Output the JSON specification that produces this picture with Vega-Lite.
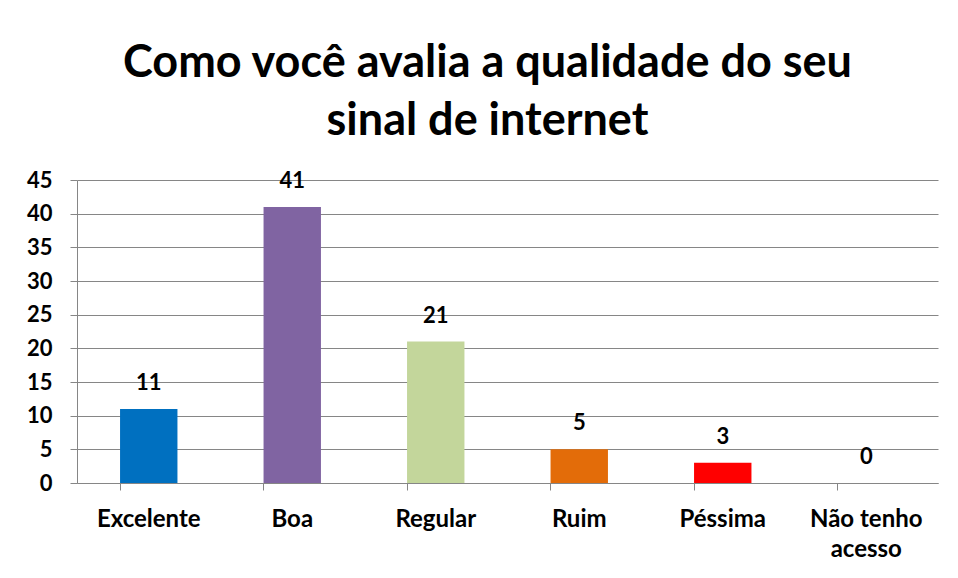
{
  "$schema": "https://vega.github.io/schema/vega-lite/v6.json",
  "autosize": "none",
  "width": 861,
  "height": 303,
  "padding": {"left": 77, "top": 180, "right": 20, "bottom": 95},
  "background": "white",
  "title": {
    "text": ["Como você avalia a qualidade do seu", "sinal de internet"],
    "font": "Lato",
    "fontSize": 45,
    "fontWeight": "bold",
    "color": "#000000",
    "anchor": "middle",
    "dx": -20,
    "lineHeight": 58,
    "offset": 25
  },
  "data": {
    "values": [
      {"categoria": "Excelente", "valor": 11},
      {"categoria": "Boa", "valor": 41},
      {"categoria": "Regular", "valor": 21},
      {"categoria": "Ruim", "valor": 5},
      {"categoria": "Péssima", "valor": 3},
      {"categoria": "Não tenho acesso", "valor": 0}
    ]
  },
  "encoding": {
    "x": {
      "field": "categoria",
      "type": "nominal",
      "sort": null,
      "scale": {"paddingInner": 0.6, "paddingOuter": 0.3},
      "axis": {
        "title": null,
        "labelAngle": 0,
        "labelFont": "Lato",
        "labelFontSize": 24,
        "labelFontWeight": "bold",
        "labelColor": "#000000",
        "labelPadding": 17,
        "labelExpr": "datum.label == 'Não tenho acesso' ? ['Não tenho', 'acesso'] : datum.label",
        "labelLineHeight": 30,
        "bandPosition": 0,
        "tickSize": 7,
        "tickColor": "#868686",
        "domainColor": "#868686",
        "grid": false
      }
    },
    "y": {
      "field": "valor",
      "type": "quantitative",
      "scale": {"domain": [0, 45], "nice": false},
      "axis": {
        "title": null,
        "values": [0, 5, 10, 15, 20, 25, 30, 35, 40, 45],
        "labelFont": "Lato",
        "labelFontSize": 22,
        "labelFontWeight": "bold",
        "labelColor": "#000000",
        "labelPadding": 18,
        "tickSize": 7,
        "tickColor": "#868686",
        "domainColor": "#868686",
        "gridColor": "#868686",
        "gridWidth": 1
      }
    }
  },
  "layer": [
    {
      "mark": {"type": "bar"},
      "encoding": {
        "color": {
          "field": "categoria",
          "type": "nominal",
          "sort": null,
          "scale": {
            "domain": ["Excelente", "Boa", "Regular", "Ruim", "Péssima", "Não tenho acesso"],
            "range": ["#0070C0", "#8064A2", "#C3D69B", "#E36C09", "#FF0000", "#4BACC6"]
          },
          "legend": null
        }
      }
    },
    {
      "mark": {"type": "text", "font": "Lato", "fontSize": 22, "fontWeight": "bold", "color": "#000000", "baseline": "alphabetic", "dy": -19},
      "encoding": {"text": {"field": "valor", "type": "quantitative"}}
    }
  ],
  "config": {"view": {"stroke": null}}
}
